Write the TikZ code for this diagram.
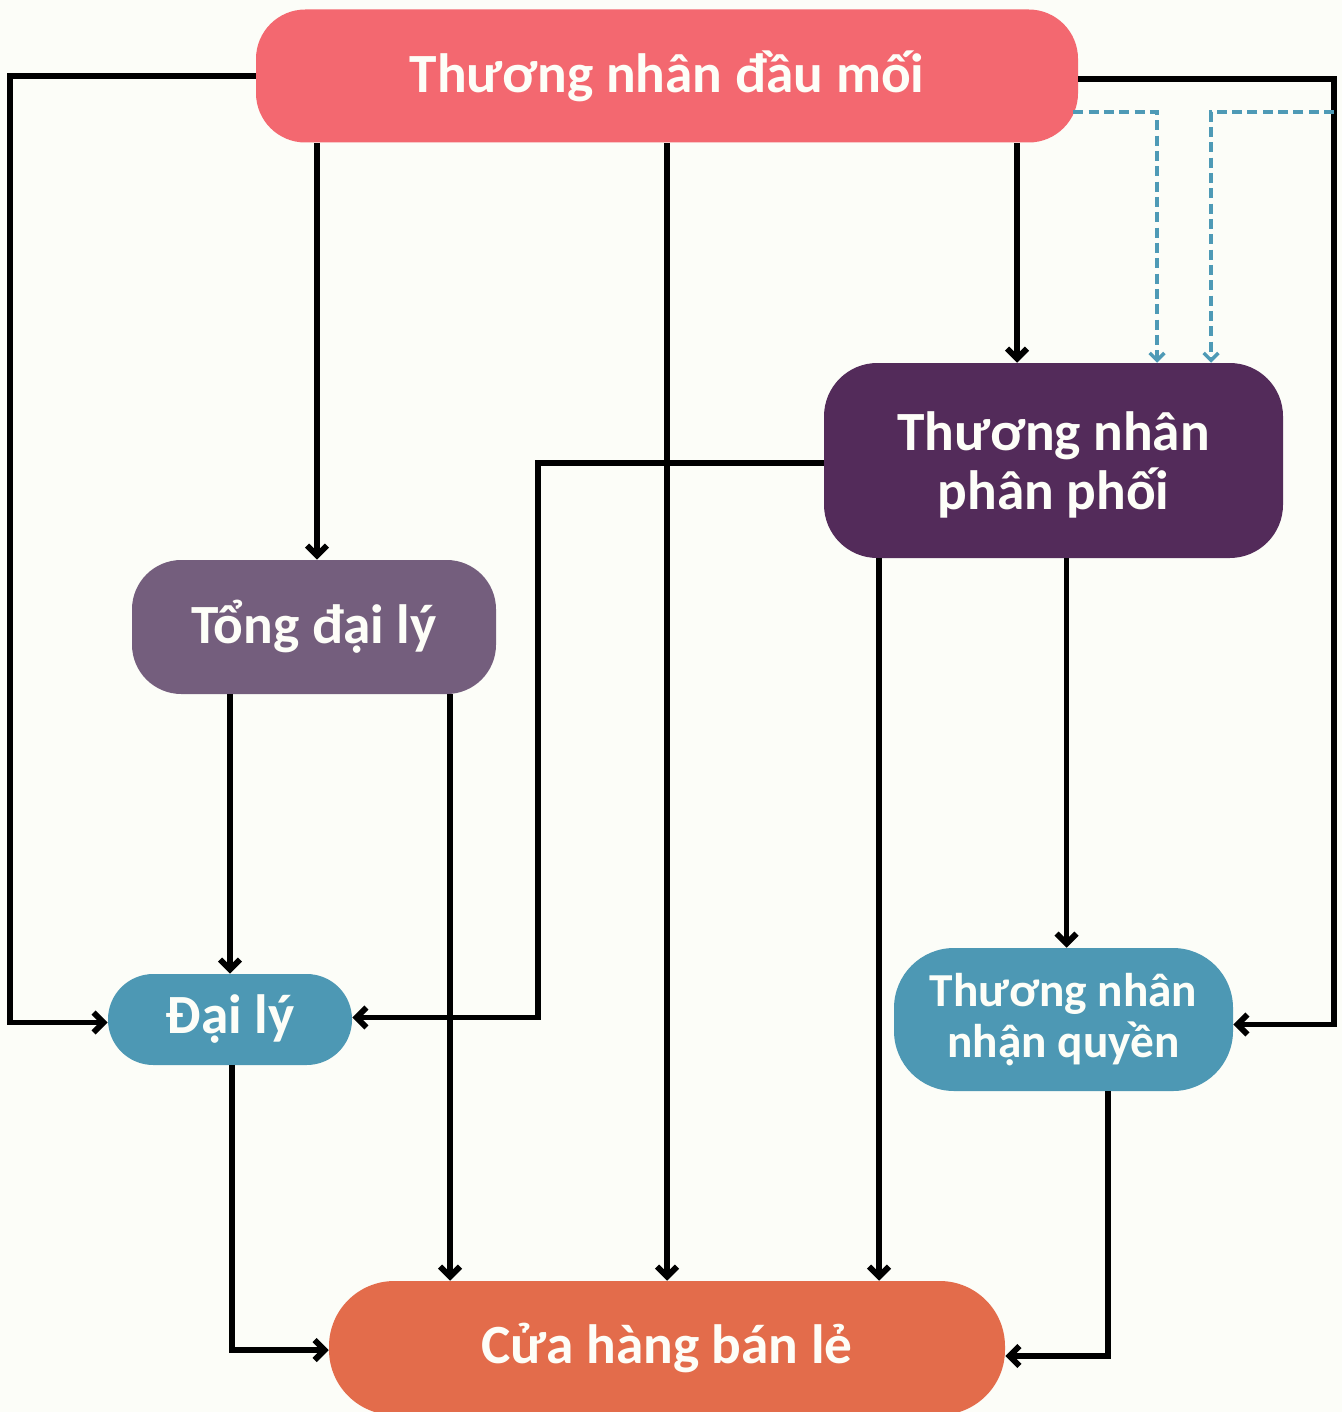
\documentclass[tikz,border=0pt]{standalone}
\usepackage{fontspec}
\setmainfont{Carlito}
\usetikzlibrary{arrows.meta,calc}
\definecolor{bg}{HTML}{FCFDF8}
\definecolor{cTop}{HTML}{F36870}
\definecolor{cPP}{HTML}{532B5A}
\definecolor{cTDL}{HTML}{745E7D}
\definecolor{cBlue}{HTML}{4D98B4}
\definecolor{cCua}{HTML}{E36C4B}
\definecolor{txt}{HTML}{FDFEF8}
\definecolor{dashc}{HTML}{4E9AB6}
\begin{document}
\begin{tikzpicture}[x=0.75pt,y=-0.75pt,
  box/.style={rectangle, inner sep=0pt, text=txt, align=center},
  big/.style={font=\bfseries\fontsize{41.5}{44}\selectfont},
  mid/.style={font=\bfseries\fontsize{35.5}{38}\selectfont},
  link/.style={line width=4.4pt, -{Straight Barb[length=7.5pt,width=15pt]}},
  dlink/.style={dashc, line width=2.8pt, dash pattern=on 7.5pt off 4pt, -{Straight Barb[length=5.5pt,width=11pt,line width=2.6pt]}}
]
\fill[bg] (0,0) rectangle (1342,1412);
\useasboundingbox (0,0) rectangle (1342,1412);

\node[box, big, fill=cTop, rounded corners=37pt, minimum width=616.5pt, minimum height=99.75pt] (top) at (667,76) {Thương nhân đầu mối};
\node[box, big, fill=cPP, rounded corners=40pt, minimum width=344.25pt, minimum height=146.25pt] (pp) at (1053.5,460.5) {};
\node[box, big, text=txt] (pptext) at (1053.5,465) {Thương nhân\\phân phối};
\node[box, big, fill=cTDL, rounded corners=37pt, minimum width=273pt, minimum height=100.5pt] (tdl) at (314,627) {Tổng đại lý};
\node[box, big, fill=cBlue, rounded corners=34pt, minimum width=183pt, minimum height=68.25pt] (dl) at (230,1019.5) {Đại lý};
\node[box, mid, fill=cBlue, rounded corners=45pt, minimum width=254.25pt, minimum height=107.25pt] (nq) at (1063.5,1019.5) {Thương nhân\\nhận quyền};
\node[box, big, fill=cCua, rounded corners=49pt, minimum width=507pt, minimum height=100.5pt] (cua) at (667,1348) {Cửa hàng bán lẻ};

\coordinate (L) at (10,0);
\coordinate (R) at (1334,0);
\coordinate (M) at (538,0);

% from top node
\draw[link] (top.west) -| ($(L |- dl.west)+(0,3)$) coordinate (dlw) -- (dlw -| dl.west);
\draw[link] ($(tdl.north)+(3,0)$) coordinate (tdn) (top.south -| tdn) -- (tdn);
\draw[link] (top.south) -- (cua.north);
\draw[link] ($(pp.north)+(-36.5,0)$) coordinate (ppa) (top.south -| ppa) -- (ppa);
\draw[link] ($(top.east)+(0,3)$) -| ($(R |- nq.east)+(0,5)$) coordinate (nqr) -- (nqr -| nq.east);

% dashed
\draw[dlink] ($(top.east)+(-5,36)$) -| ($(pp.north)+(103.5,0)$);
\draw[dlink] ($(R)+(0,112)$) -| ($(pp.north)+(157.5,0)$);

% from distributor
\draw[link] ($(pp.west)+(0,2.5)$) -| ($(M |- dl.east)+(0,-2)$) coordinate (dle) -- (dle -| dl.east);
\draw[link] ($(pp.south)+(-174.5,0)$) coordinate (ppb) -- (ppb |- cua.north);
\draw[link] ($(pp.south -| nq.north)+(3,0)$) coordinate (ppc) -- (ppc |- nq.north);

% from general agent
\draw[link] (tdl.south -| dl.north) -- (dl.north);
\draw[link] ($(tdl.south)+(136,0)$) coordinate (tdb) -- (tdb |- cua.north);

% to retail
\draw[link] ($(dl.south)+(2,0)$) |- ($(cua.west)+(0,2)$);
\draw[link] ($(nq.south)+(44.5,0)$) |- ($(cua.east)+(0,8)$);
\end{tikzpicture}
\end{document}
